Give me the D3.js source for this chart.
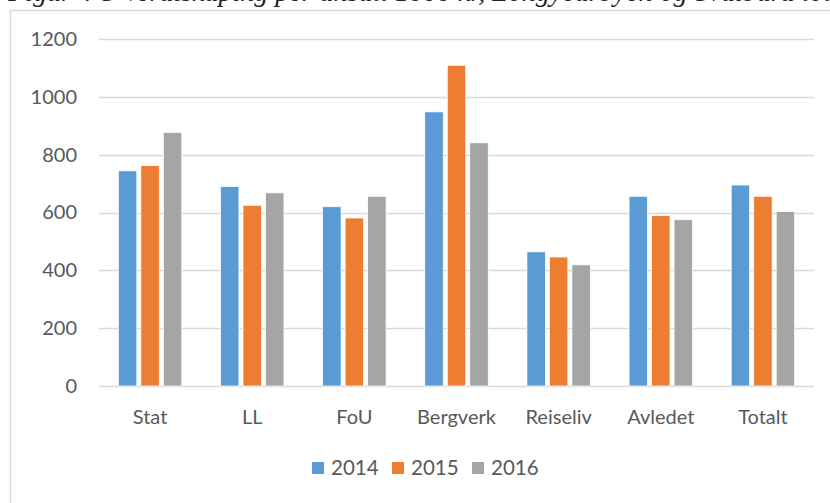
<!DOCTYPE html>
<html>
<head>
<meta charset="utf-8">
<script src="https://cdn.jsdelivr.net/npm/d3@7"></script>
<style>
  html, body { margin: 0; padding: 0; background: #fff; overflow: hidden; }
</style>
</head>
<body>
<div id="container"></div>
<script>
// svg size
const width = 830;
const height = 503;

// plot area
const plotLeft = 99;
const plotRight = 814;
const plotTop = 39;
const plotBottom = 386;

// font
const fontFamily = "Lato, 'Open Sans', sans-serif";
const textColor = "#595959";
const gridColor = "#d9d9d9";

// data
const categories = ["Stat", "LL", "FoU", "Bergverk", "Reiseliv", "Avledet", "Totalt"];
const years = ["2014", "2015", "2016"];
const values2014 = [744, 690, 620, 948, 464, 656, 695];
const values2015 = [762, 625, 581, 1109, 446, 589, 656];
const values2016 = [877, 668, 656, 841, 419, 575, 603];
const yTicks = [0, 200, 400, 600, 800, 1000, 1200];
const colors = ["#5b9bd5", "#ed7d31", "#a5a5a5"];

const series = [values2014, values2015, values2016];
const titleText = "Figur 4-5 Verdiskaping per ansatt 1000 kr, Longyearbyen og Svalbard totalt";

const svg = d3.select("#container").append("svg")
    .attr("width", width)
    .attr("height", height)
    .style("display", "block")
    .attr("font-family", fontFamily);

// caption above the chart frame, mostly cut off by the top edge
svg.append("text")
    .attr("x", 8)
    .attr("y", 1)
    .attr("font-family", "'Liberation Serif', 'DejaVu Serif', serif")
    .attr("font-style", "italic")
    .attr("font-size", 28)
    .attr("fill", "#222")
    .text(titleText);

// chart frame (runs off the right and bottom)
svg.append("rect")
    .attr("x", 10.5)
    .attr("y", 10.5)
    .attr("width", width + 20)
    .attr("height", height + 20)
    .attr("fill", "#fff")
    .attr("stroke", gridColor)
    .attr("stroke-width", 1.5);

const x = d3.scaleBand()
    .domain(categories)
    .range([plotLeft, plotRight])
    .padding(0);

const x1 = d3.scaleBand()
    .domain(years)
    .range([0, x.bandwidth()])
    .paddingInner(0.18)
    .paddingOuter(0.86);

const y = d3.scaleLinear()
    .domain([0, 1200])
    .range([plotBottom, plotTop]);

// gridlines
svg.append("g")
  .selectAll("line")
  .data(yTicks)
  .join("line")
    .attr("x1", plotLeft)
    .attr("x2", plotRight)
    .attr("y1", d => Math.round(y(d)) + 0.5)
    .attr("y2", d => Math.round(y(d)) + 0.5)
    .attr("stroke", gridColor)
    .attr("stroke-width", 1.6);

// y axis labels
const yAxis = svg.append("g")
    .attr("transform", `translate(${plotLeft - 22},0)`)
    .call(d3.axisLeft(y).tickValues(yTicks).tickFormat(d3.format("d")).tickSize(0).tickPadding(0));
yAxis.select(".domain").remove();
yAxis.selectAll("text")
    .attr("fill", textColor)
    .attr("font-size", 20)
    .attr("font-family", fontFamily);

// bars
const groups = svg.append("g")
  .selectAll("g")
  .data(categories)
  .join("g")
    .attr("transform", d => `translate(${x(d)},0)`);

groups.selectAll("rect")
  .data((d, i) => years.map((yr, j) => ({ year: yr, value: series[j][i], color: colors[j] })))
  .join("rect")
    .attr("x", d => x1(d.year))
    .attr("width", x1.bandwidth())
    .attr("y", d => y(d.value))
    .attr("height", d => y(0) - y(d.value))
    .attr("fill", d => d.color)
    .attr("stroke", "#fff")
    .attr("stroke-width", 0.75);

// x axis labels
const xAxis = svg.append("g")
    .attr("transform", `translate(0,${plotBottom + 12})`)
    .call(d3.axisBottom(x).tickSize(0).tickPadding(12));
xAxis.select(".domain").remove();
xAxis.selectAll("text")
    .attr("fill", textColor)
    .attr("font-size", 20)
    .attr("font-family", fontFamily);

// legend
const legendItemWidth = 80;
const legendCenter = 432;
const legendY = 468;
const legend = svg.append("g")
    .attr("transform", `translate(${legendCenter - (years.length * legendItemWidth) / 2},${legendY})`);

const item = legend.selectAll("g")
  .data(years)
  .join("g")
    .attr("transform", (d, i) => `translate(${i * legendItemWidth},0)`);

item.append("rect")
    .attr("x", 0)
    .attr("y", -6)
    .attr("width", 12)
    .attr("height", 12)
    .attr("fill", (d, i) => colors[i]);

item.append("text")
    .attr("x", 19)
    .attr("y", 0)
    .attr("dy", "0.35em")
    .attr("fill", textColor)
    .attr("font-size", 20.5)
    .text(d => d);
</script>
</body>
</html>
